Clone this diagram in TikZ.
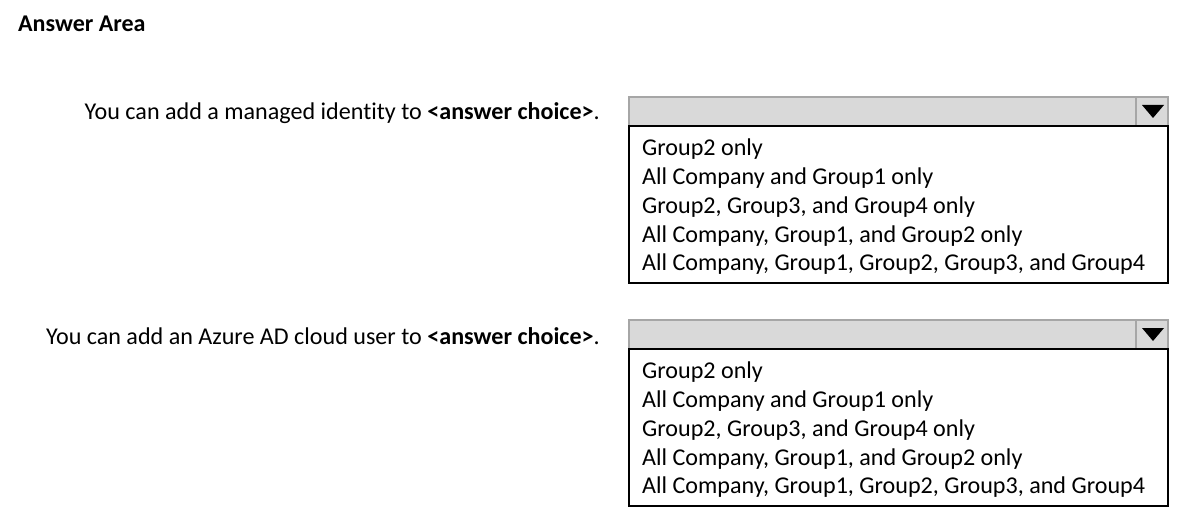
\documentclass[tikz,border=0pt]{standalone}
\usepackage{fontspec}
\setmainfont{Carlito}[Ligatures={NoCommon}]
\begin{document}
\begin{tikzpicture}[x=1pt,y=-1pt]
		\tikzstyle{entete} = [draw=black!35,fill=black!15,line width=1.5pt];
		\tikzstyle{liste} = [draw=black,line width=2pt];
		\tikzstyle{choix} = [anchor=west,inner sep=0pt,font=\fontsize{24.1}{29}\selectfont];
		\tikzstyle{question} = [anchor=east,inner sep=0pt,font=\fontsize{24.1}{29}\selectfont];
		
		\useasboundingbox (0,0) rectangle (1184,524);
		
		\node[anchor=west,inner sep=0pt,font=\fontsize{24}{29}\selectfont\bfseries] (titre) at (18,24) {Answer Area};
		
		
		\foreach \q/\dy/\txt in {A/0/You can add a managed identity to,B/223/You can add an Azure AD cloud user to}{
			\node[question] (q\q) at (600,113.5+\dy) {\txt{} \textbf{<answer choice>}.};
			\draw[entete] (629,97+\dy) rectangle (1168,126+\dy);
			\draw[black!35,line width=1.5pt] (1136,97+\dy) -- (1136,126+\dy);
			\fill[black] (1142,105+\dy) -- (1164,105+\dy) -- (1153,118+\dy) -- cycle;
			\draw[liste] (629,126+\dy) rectangle (1168,283+\dy);
			
			\foreach \i/\item in {0/Group2 only,1/All Company and Group1 only,2/{Group2, Group3, and Group4 only},3/{All Company, Group1, and Group2 only},4/{All Company, Group1, Group2, Group3, and Group4}}{
				\node[choix] (c\q\i) at (642,149.5+\dy+28.7*\i) {\item};
			}
		}
		
		
	\end{tikzpicture}
\end{document}
